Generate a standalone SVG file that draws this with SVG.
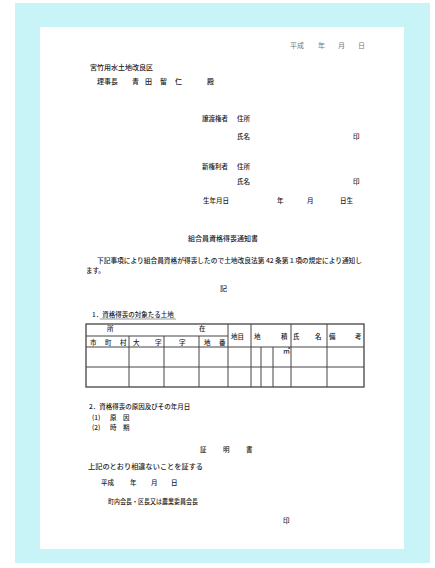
<svg xmlns="http://www.w3.org/2000/svg" width="435" height="568" viewBox="0 0 435 568">
<style>
text{font-family:"Noto Sans CJK JP","Noto Sans",sans-serif;fill:#222;font-size:7px;font-weight:500}
.s{font-size:6.5px}
.l{fill:#777;font-weight:400}
.g line{stroke:#444;stroke-width:1}
.f{stroke:#aaa;stroke-width:0.6}
</style>
<rect width="435" height="568" fill="#fff"/>
<rect x="15" y="3" width="415" height="560" fill="#c8f4f8"/>
<rect x="40" y="27" width="364" height="522" fill="#fff"/>
<g id="header">
<text class="l" x="290" y="48">平成</text>
<text class="l" x="318" y="48">年</text>
<text class="l" x="338" y="48">月</text>
<text class="l" x="358" y="48">日</text>
<text x="90" y="70" font-size="7.6">宮竹用水土地改良区</text>
<text x="97" y="84">理事長</text>
<text x="132" y="84">青</text>
<text x="145" y="84">田</text>
<text x="160" y="84">留</text>
<text x="175" y="84">仁</text>
<text x="207" y="84">殿</text>
</g>
<g id="parties">
<text class="s" x="202" y="121">譲渡権者</text>
<text class="s" x="237" y="121">住所</text>
<text class="s" x="237" y="139">氏名</text>
<text class="s" x="353" y="139">印</text>
<text class="s" x="202" y="169">新権利者</text>
<text class="s" x="237" y="169">住所</text>
<text class="s" x="237" y="184">氏名</text>
<text class="s" x="353" y="184">印</text>
<text class="s" x="203" y="203">生年月日</text>
<text class="s" x="277" y="203">年</text>
<text class="s" x="307" y="203">月</text>
<text class="s" x="340" y="203">日生</text>
</g>
<g id="title">
<text x="188" y="241" font-size="8.2">組合員資格得喪通知書</text>
<text class="s" x="97" y="263" textLength="265" lengthAdjust="spacingAndGlyphs">下記事項により組合員資格が得喪したので土地改良法第 42 条第１項の規定により通知し</text>
<text class="s" x="86" y="273">ます。</text>
<text x="220" y="291">記</text>
</g>
<g id="section1">
<text class="s" x="92" y="317">1．資格得喪の対象たる土地</text>
<line x1="100" y1="319" x2="176" y2="319" stroke="#555" stroke-width="0.6"/>
</g>
<g id="table" class="g">
<rect x="86" y="324" width="278" height="63" fill="none" stroke="#444" stroke-width="1.3"/>
<line x1="86" y1="336" x2="228" y2="336"/>
<line x1="86" y1="347" x2="364" y2="347"/>
<line x1="86" y1="367" x2="364" y2="367"/>
<line x1="129" y1="336" x2="129" y2="387"/>
<line x1="164" y1="336" x2="164" y2="387"/>
<line x1="199" y1="336" x2="199" y2="387"/>
<line x1="228" y1="324" x2="228" y2="387" stroke-width="1.3"/>
<line x1="251" y1="324" x2="251" y2="387"/>
<line x1="291" y1="324" x2="291" y2="387"/>
<line x1="327" y1="324" x2="327" y2="387"/>
<line class="f" x1="261" y1="347" x2="261" y2="387"/>
<line class="f" x1="273" y1="347" x2="273" y2="387"/>
<text class="s" x="107" y="331">所</text>
<text class="s" x="199" y="331">在</text>
<text class="s" x="90" y="345">市</text>
<text class="s" x="105" y="345">町</text>
<text class="s" x="120" y="345">村</text>
<text class="s" x="133" y="345">大</text>
<text class="s" x="155" y="345">字</text>
<text class="s" x="179" y="345">字</text>
<text class="s" x="204" y="345">地</text>
<text class="s" x="219" y="345">番</text>
<text class="s" x="231" y="339">地目</text>
<text class="s" x="254" y="339">地</text>
<text class="s" x="281" y="339">積</text>
<text x="283" y="353" font-size="4.5">㎡</text>
<text class="s" x="293" y="339">氏</text>
<text class="s" x="315" y="339">名</text>
<text class="s" x="329" y="339">備</text>
<text class="s" x="355" y="339">考</text>
</g>
<g id="section2">
<text class="s" x="89" y="409">2．資格得喪の原因及びその年月日</text>
<text class="s" x="92" y="420">(1)</text>
<text class="s" x="110" y="420">原</text>
<text class="s" x="123" y="420">因</text>
<text class="s" x="92" y="430">(2)</text>
<text class="s" x="110" y="430">時</text>
<text class="s" x="123" y="430">期</text>
</g>
<g id="certificate">
<text class="s" x="200" y="452">証</text>
<text class="s" x="223" y="452">明</text>
<text class="s" x="246" y="452">書</text>
<text class="s" x="88" y="469" textLength="115" lengthAdjust="spacingAndGlyphs">上記のとおり相違ないことを証する</text>
<text class="s" x="101" y="485">平成</text>
<text class="s" x="130" y="485">年</text>
<text class="s" x="151" y="485">月</text>
<text class="s" x="171" y="485">日</text>
<text class="s" x="108" y="504" textLength="90" lengthAdjust="spacingAndGlyphs">町内会長・区長又は農業委員会長</text>
<text class="s" x="283" y="523">印</text>
</g>
</svg>
